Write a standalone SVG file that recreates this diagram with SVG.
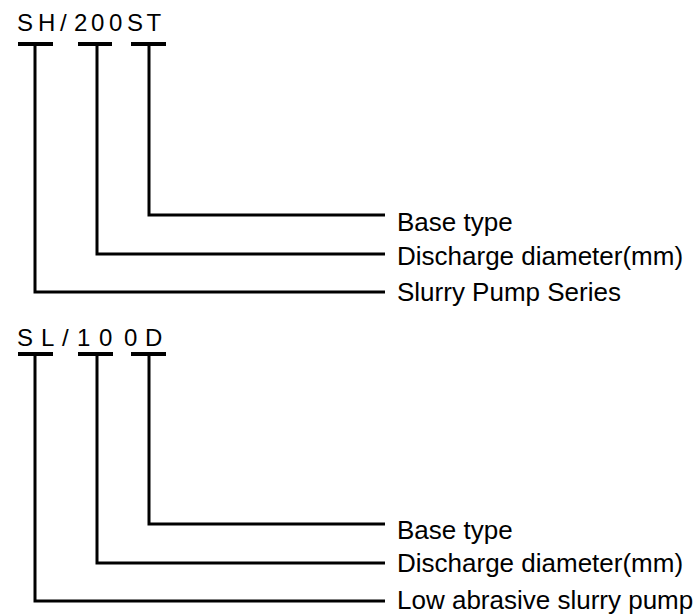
<svg xmlns="http://www.w3.org/2000/svg" width="693" height="614" viewBox="0 0 693 614">
<style>
.code{font-family:"Liberation Sans",Arial,sans-serif;font-size:24px;fill:#000}
.lbl{font-family:"Liberation Sans",Arial,sans-serif;font-size:26px;fill:#000}
.ln{fill:none;stroke:#000;stroke-width:3}
.bar{fill:#000}
</style>
<rect width="693" height="614" fill="#fff"/>
<g id="code1">
<text class="code" y="31"><tspan x="17">S</tspan><tspan x="38">H</tspan><tspan x="60">/</tspan><tspan x="74">2</tspan><tspan x="91">0</tspan><tspan x="109">0</tspan><tspan x="127">S</tspan><tspan x="146.5">T</tspan></text>
<rect class="bar" x="18" y="42" width="35" height="4"/>
<rect class="bar" x="78" y="42" width="34" height="4"/>
<rect class="bar" x="131" y="42" width="35" height="4"/>
</g>
<g id="code2">
<text class="code" y="346"><tspan x="17">S</tspan><tspan x="41">L</tspan><tspan x="62">/</tspan><tspan x="77">1</tspan><tspan x="99">0</tspan><tspan x="124">0</tspan><tspan x="145">D</tspan></text>
<rect class="bar" x="18" y="352" width="35" height="4"/>
<rect class="bar" x="78" y="352" width="35" height="4"/>
<rect class="bar" x="131" y="352" width="35" height="4"/>
</g>
<g id="connectors">
<path class="ln" d="M149 46 V215 H385"/>
<path class="ln" d="M97 46 V254 H385"/>
<path class="ln" d="M35 46 V292 H385"/>
<path class="ln" d="M149 356 V524 H385"/>
<path class="ln" d="M97 356 V563 H385"/>
<path class="ln" d="M35 356 V601 H385"/>
</g>
<g id="labels1">
<text class="lbl" x="397" y="231">Base type</text>
<text class="lbl" x="397" y="265">Discharge diameter(mm)</text>
<text class="lbl" x="397" y="301">Slurry Pump Series</text>
</g>
<g id="labels2">
<text class="lbl" x="397" y="539">Base type</text>
<text class="lbl" x="397" y="572">Discharge diameter(mm)</text>
<text class="lbl" x="397" y="609">Low abrasive slurry pump</text>
</g>
</svg>
